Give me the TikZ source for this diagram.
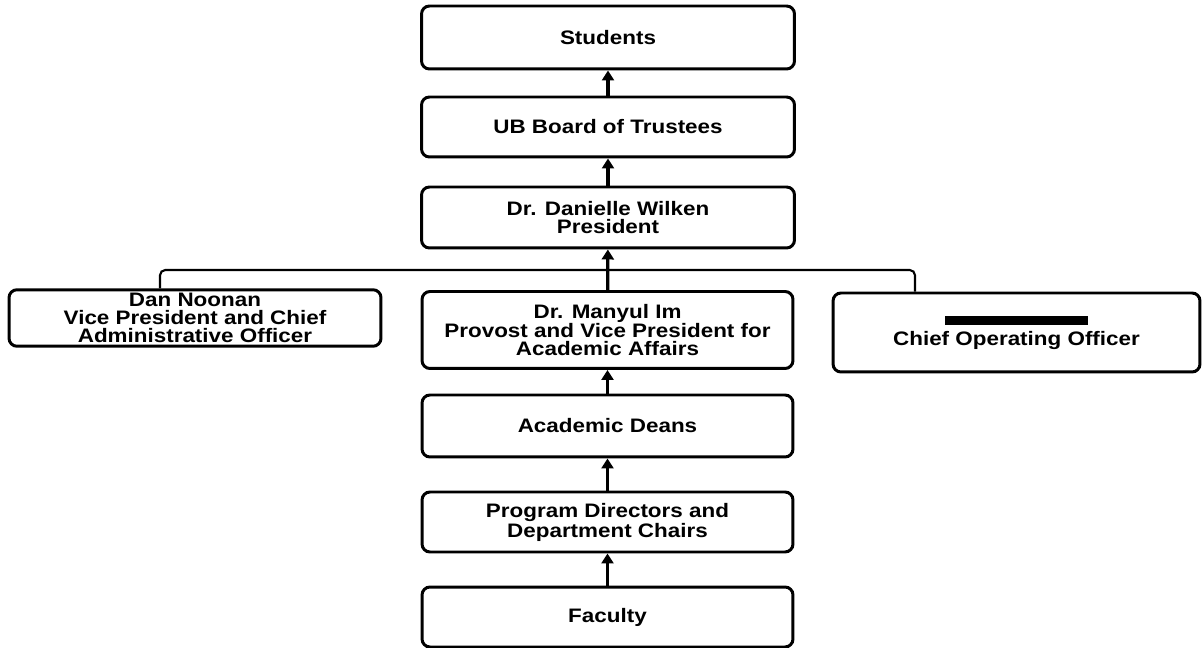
\documentclass[tikz,border=0pt]{standalone}
\usepackage{fontspec}
\setmainfont{Liberation Sans}[FakeStretch=1.15]
\usepackage{tikz}
\usetikzlibrary{positioning, arrows.meta, calc}

\begin{document}
\begin{tikzpicture}[
    x=0.02cm, y=-0.02cm,
    orgbox/.style={draw, line width=1.7pt, rounded corners=4.5pt, align=center,
        minimum width=7.46cm, inner sep=2pt,
        font=\fontsize{11.1}{10.2}\selectfont\bfseries},
    uparrow/.style={-{Triangle[length=2mm, width=2.4mm]}, line width=1.9pt},
    bus/.style={line width=1.2pt, rounded corners=3pt}
]

    % Frame
    \useasboundingbox (0,0) rectangle (1204,648);

    % Central chain
    \node[orgbox, minimum height=1.26cm] (students) at (608,37.5) {Students};
    \node[orgbox, minimum height=1.2cm] (board) at (608,127) {UB Board of Trustees};
    \node[orgbox, minimum height=1.22cm] (president) at (608,217.5)
        {Dr. Danielle Wilken\\President};
    \node[orgbox, minimum height=1.54cm, minimum width=7.42cm] (provost) at (607.5,330)
        {Dr. Manyul Im\\Provost and Vice President for\\Academic Affairs};
    \node[orgbox, minimum height=1.24cm, minimum width=7.42cm] (deans) at (607.5,426)
        {Academic Deans};
    \node[orgbox, minimum height=1.2cm, minimum width=7.42cm] (program) at (607.5,522)
        {Program Directors and\\Department Chairs};
    \node[orgbox, minimum height=1.2cm, minimum width=7.42cm] (faculty) at (607.5,617)
        {Faculty};

    % Side boxes
    \node[orgbox, minimum height=1.0cm, minimum width=7.44cm] (noonan) at (195,318)
        {Dan Noonan\\Vice President and Chief\\Administrative Officer};
    \node[orgbox, minimum height=1.58cm, minimum width=7.34cm] (coo) at (1016.5,332.5)
        {\rule[0.2ex]{2.88cm}{5.5pt}\\Chief Operating Officer};

    % Bus
    \coordinate (busL) at (160,270);
    \coordinate (busR) at (915,270);
    \draw[bus] (busL |- noonan.north) -- (busL) -- (busR) -- (busR |- coo.north);

    % Arrows
    \draw[uparrow] (board) -- (students);
    \draw[uparrow] (president) -- (board);
    \draw[uparrow] (provost) -- (president);
    \draw[uparrow] (deans) -- (provost);
    \draw[uparrow] (program) -- (deans);
    \draw[uparrow] (faculty) -- (program);

\end{tikzpicture}
\end{document}
